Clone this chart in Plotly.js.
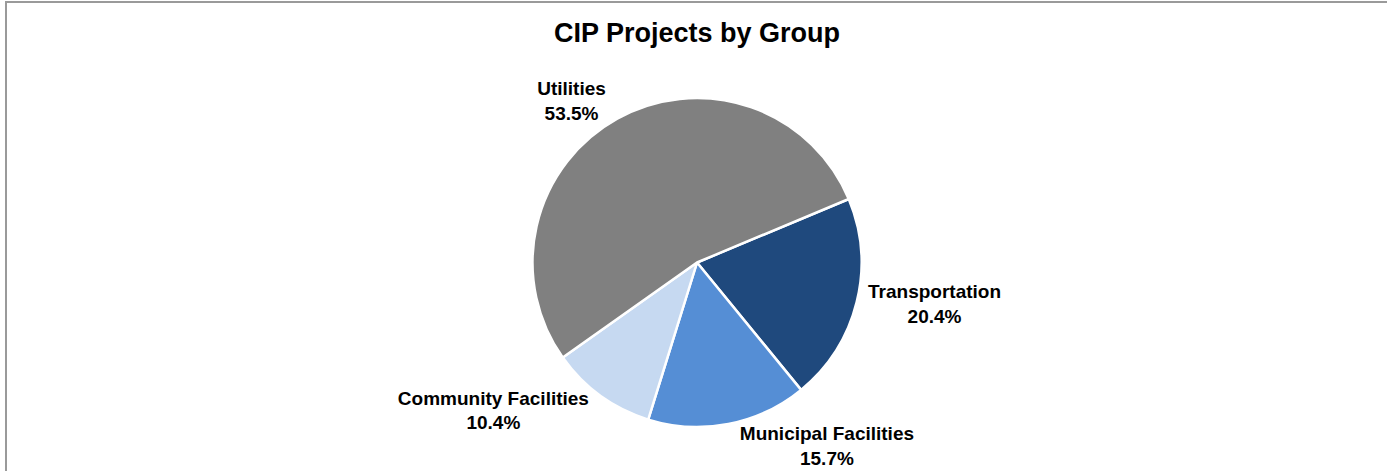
<!DOCTYPE html>
<html>
<head>
<meta charset="utf-8">
<script src="https://cdn.plot.ly/plotly-3.0.1.min.js"></script>
<style>
  html, body { margin: 0; padding: 0; background: #fff; overflow: hidden; }
  #frame { position: absolute; left: 5px; top: 1px; width: 1400px; height: 480px;
           border-left: 2px solid #9a9a9a; border-top: 2px solid #9a9a9a; }
  #myDiv { position: absolute; left: 0; top: 0; width: 1387px; height: 471px; }
</style>
</head>
<body>
<div id="frame"></div>
<div id="myDiv"></div>
<script>
// CIP projects, share by group (percent)
var grupos = ['Transportation', 'Municipal Facilities', 'Community Facilities', 'Utilities'];
var porcentajes = [20.4, 15.7, 10.4, 53.5];
var colores = ['#1F497D', '#558ED5', '#C6D9F1', '#808080'];

var trace1 = {
  type: 'pie',
  labels: grupos,
  values: porcentajes,
  sort: false,
  direction: 'clockwise',
  rotation: 67.3,
  marker: {
    colors: colores,
    line: { color: '#ffffff', width: 2.5 }
  },
  textposition: 'outside',
  texttemplate: '<b>%{label}<br>%{percent:.1%}</b>',
  textfont: { family: 'Liberation Sans, Arial, sans-serif', size: 19, color: '#000' },
  hoverinfo: 'label+percent',
  automargin: false,
  showlegend: false
};

var layout = {
  title: {
    text: '<b>CIP Projects by Group</b>',
    font: { family: 'Liberation Sans, Arial, sans-serif', size: 27, color: '#000' },
    x: 0.5,
    xref: 'paper',
    y: 1 - 33 / 471,
    yref: 'container',
    yanchor: 'middle'
  },
  width: 1387,
  height: 471,
  margin: { l: 7, r: 0, t: 98, b: 44 },
  paper_bgcolor: 'rgba(0,0,0,0)',
  plot_bgcolor: 'rgba(0,0,0,0)',
  showlegend: false
};

Plotly.newPlot('myDiv', [trace1], layout, { displayModeBar: false, staticPlot: true });
</script>
</body>
</html>
